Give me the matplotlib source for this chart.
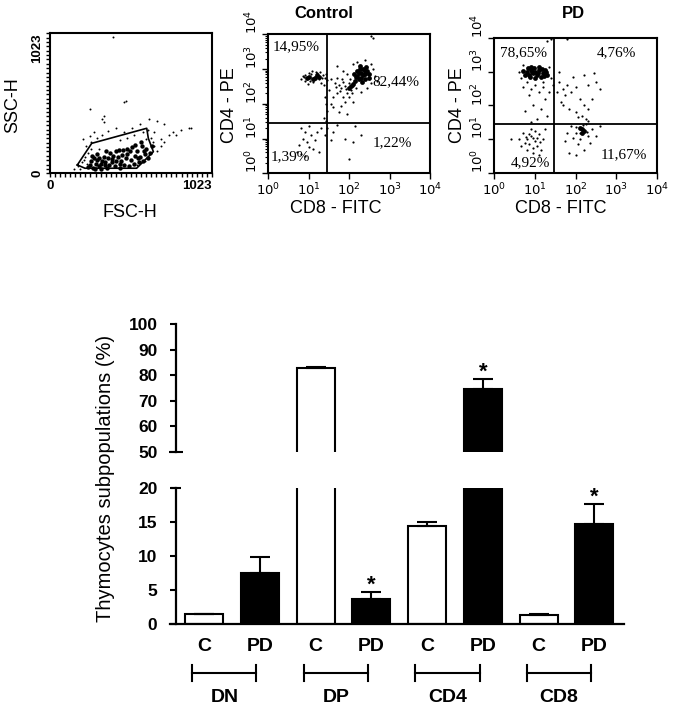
import numpy as np
import matplotlib
matplotlib.use("Agg")
import matplotlib.pyplot as plt
from matplotlib.ticker import MultipleLocator, LogLocator, NullFormatter

plt.rcParams["font.family"] = ["Liberation Sans", "DejaVu Sans"]

W, H = 682, 710


def box(x0, y0, x1, y1):
    # pixel box (top-left origin) -> figure fraction rect
    return [x0 / W, 1 - y1 / H, (x1 - x0) / W, (y1 - y0) / H]


# ---------------- data ----------------

# FSC / SSC dot plot (channel units 0-1023)
fsc_dots = [180, 200, 220, 240, 260, 230, 210, 250, 280, 300, 330, 370, 420, 470, 520,
            570, 620, 640, 660, 680, 700, 720, 750, 780, 800, 830, 880, 890, 250, 340,
            465, 480, 400, 625, 340, 330, 150, 190, 660, 640, 600, 550, 700, 260, 290,
            310, 440, 490, 530, 590, 610, 650, 215, 235, 275, 680, 720]
ssc_dots = [50, 80, 120, 150, 180, 200, 250, 270, 300, 260, 280, 310, 330, 300, 330,
            360, 320, 260, 300, 380, 250, 360, 280, 300, 280, 320, 330, 330, 470, 377,
            520, 530, 994, 397, 420, 400, 30, 30, 200, 150, 90, 60, 200, 230, 40,
            180, 240, 260, 280, 300, 250, 230, 100, 70, 130, 160, 230]
fsc_core = [250, 270, 290, 310, 330, 350, 370, 390, 410, 430, 450, 470, 490, 510, 530,
            550, 570, 590, 610, 630, 280, 300, 320, 340, 360, 380, 400, 420, 440, 460,
            480, 500, 520, 540, 560, 580, 600, 620, 260, 300, 345, 395, 445, 505, 555,
            595, 455, 375, 325, 285, 240, 265, 415, 485, 535, 575, 645, 355, 435, 310]
ssc_core = [60, 40, 70, 50, 90, 60, 110, 80, 50, 120, 90, 60, 140, 100, 70,
            160, 120, 90, 180, 150, 110, 140, 30, 120, 40, 150, 130, 90, 40, 170,
            110, 50, 190, 130, 80, 200, 140, 110, 90, 95, 85, 105, 65, 160, 110,
            160, 135, 60, 70, 35, 45, 130, 160, 180, 210, 230, 200, 160, 170, 115]
gate_x = [173, 264, 612, 622, 654, 548, 221]
gate_y = [61, 219, 329, 256, 158, 37, 37]

# CD8-FITC / CD4-PE dot plots (log10 units)
ctrl_dots = [(0.85, 2.80), (0.95, 2.72), (1.05, 2.85), (1.15, 2.78), (1.25, 2.70), (1.35, 2.82),
             (0.90, 2.65), (1.00, 2.90), (1.10, 2.62), (1.20, 2.88), (1.30, 2.60), (1.40, 2.75),
             (0.80, 2.70), (1.45, 2.68), (0.97, 2.58), (1.28, 2.92), (1.08, 2.95), (1.38, 2.55),
             (2.00, 2.60), (1.90, 2.50), (1.80, 2.45), (1.70, 2.30), (1.60, 2.20), (2.05, 2.40),
             (1.95, 2.30), (1.85, 2.20), (2.10, 2.50), (1.75, 2.55), (1.65, 2.60), (1.55, 2.70),
             (1.70, 2.75), (2.00, 2.20), (1.90, 2.05), (1.80, 1.95), (2.10, 2.05), (1.60, 1.90),
             (1.75, 1.75), (2.55, 2.60), (2.60, 3.00), (2.65, 2.80), (2.55, 3.15), (2.10, 3.15),
             (1.95, 2.85), (1.85, 2.95), (2.70, 2.65), (1.50, 2.40), (1.55, 2.00), (1.95, 1.70),
             (2.30, 2.35), (2.45, 2.45), (2.20, 3.20), (2.40, 3.25), (1.70, 3.10), (2.60, 3.90),
             (2.55, 3.95), (0.80, 1.30), (0.90, 1.20), (0.85, 1.00), (0.95, 0.90), (0.75, 0.80),
             (1.05, 1.10), (1.10, 0.70), (1.00, 1.35), (0.70, 0.60), (0.90, 0.50), (1.20, 1.20),
             (1.15, 0.95), (0.80, 0.55), (1.30, 1.30), (1.00, 0.75), (1.25, 0.60), (1.60, 1.20),
             (1.90, 1.00), (2.10, 0.90), (2.30, 1.10), (2.00, 0.40), (1.70, 1.40), (2.15, 1.35),
             (1.55, 0.95), (1.40, 2.20), (1.42, 2.00), (1.45, 1.80), (1.38, 1.60), (1.43, 1.50),
             (1.45, 1.30), (1.40, 1.10), (0.92, 2.84), (1.12, 2.68), (1.22, 2.80), (1.32, 2.74),
             (1.02, 2.66), (0.88, 2.76), (1.18, 2.92), (1.42, 2.86), (1.86, 2.62), (2.02, 2.72),
             (1.78, 2.38), (1.68, 2.48), (2.08, 2.32), (1.92, 2.42), (2.18, 2.45), (1.82, 2.70)]
ctrl_core = [(1.00, 2.78), (1.15, 2.75), (1.25, 2.78), (1.10, 2.70), (0.95, 2.74), (1.20, 2.84),
             (2.20, 2.80), (2.30, 2.90), (2.40, 2.85), (2.35, 3.00), (2.25, 2.70), (2.45, 2.95),
             (2.30, 2.75), (2.15, 2.65), (2.40, 2.70), (2.50, 2.85), (2.28, 3.08), (2.20, 2.95),
             (2.35, 2.82), (2.25, 2.88), (2.42, 3.05), (2.18, 2.76), (2.10, 2.58), (2.05, 2.50),
             (2.32, 2.62), (2.48, 2.75), (2.38, 2.93), (2.12, 2.85), (2.27, 3.00), (2.00, 2.45)]
pd_dots = [(0.70, 3.20), (0.65, 2.80), (1.35, 3.15), (1.40, 2.80), (0.80, 2.70), (1.20, 2.70),
           (1.00, 2.60), (0.90, 2.50), (1.10, 2.40), (0.85, 2.30), (1.25, 2.20), (0.95, 2.00),
           (1.15, 1.90), (0.75, 1.85), (1.30, 1.70), (1.05, 1.60), (0.90, 1.50), (1.20, 2.55),
           (0.70, 2.55), (1.45, 2.60), (1.35, 2.40), (0.60, 3.00), (0.70, 1.20), (0.80, 1.00),
           (0.90, 1.10), (1.00, 0.95), (1.10, 1.15), (0.85, 0.85), (0.95, 0.75), (1.05, 0.80),
           (0.75, 0.90), (1.20, 1.00), (0.90, 1.30), (1.15, 0.70), (0.60, 1.00), (1.00, 1.25),
           (0.80, 0.70), (1.25, 1.30), (0.65, 0.80), (1.10, 0.55), (0.40, 1.00), (0.95, 0.60),
           (1.60, 2.70), (1.70, 2.50), (1.80, 2.60), (1.90, 2.40), (2.00, 2.55), (2.10, 2.20),
           (1.75, 2.30), (1.65, 2.10), (2.20, 2.00), (1.85, 1.90), (2.00, 1.80), (2.15, 1.70),
           (2.30, 1.90), (2.40, 2.20), (1.55, 2.40), (2.50, 2.70), (2.60, 2.50), (2.30, 2.60),
           (1.95, 2.85), (2.20, 2.90), (2.45, 2.95), (1.70, 2.00), (2.05, 1.65), (2.25, 1.60),
           (1.60, 3.00), (1.90, 1.40), (2.00, 1.20), (2.10, 1.00), (2.30, 1.10), (2.25, 1.45),
           (1.95, 1.05), (2.40, 1.30), (2.05, 0.85), (2.35, 0.90), (1.80, 1.20), (2.50, 1.10),
           (2.20, 0.70), (2.00, 0.55), (2.60, 1.40), (1.75, 0.95), (2.30, 1.55), (1.85, 0.60),
           (1.40, 3.95), (1.80, 3.95), (1.30, 3.90), (0.85, 1.15), (0.95, 1.05), (1.05, 1.05),
           (0.78, 1.08), (1.12, 0.92), (2.12, 1.18), (2.18, 1.42), (2.28, 1.22), (2.02, 1.38)]
pd_core = [(0.80, 3.00), (0.90, 3.05), (1.00, 3.00), (1.10, 3.05), (1.20, 2.95), (0.85, 2.90),
           (0.95, 2.95), (1.05, 2.90), (1.15, 2.85), (1.25, 3.05), (0.90, 3.15), (1.10, 3.15),
           (1.00, 2.82), (1.30, 2.90), (0.75, 2.90), (0.82, 3.10), (0.98, 3.10), (1.18, 3.08),
           (1.28, 2.98), (0.70, 3.02), (0.88, 2.84), (1.08, 2.96), (0.92, 2.98), (1.22, 2.86),
           (2.15, 1.30), (2.20, 1.25), (2.10, 1.35), (2.17, 1.20)]

ctrl_quad = (1.46, 1.44)
pd_quad = (1.48, 1.45)
ctrl_pct = ["14,95%", "82,44%", "1,39%", "1,22%"]
pd_pct = ["78,65%", "4,76%", "4,92%", "11,67%"]

# bar chart
groups = ["DN", "DP", "CD4", "CD8"]
conds = ["C", "PD"]
means = [1.4, 7.5, 82.8, 3.7, 14.4, 74.5, 1.3, 14.7]
errs = [0.05, 2.4, 0.3, 1.0, 0.6, 4.0, 0.15, 2.9]
stars = ["", "", "", "*", "", "*", "", "*"]

fig = plt.figure(figsize=(W / 100, H / 100), dpi=100)

# ---------------- FSC / SSC ----------------
ax1 = fig.add_axes(box(50, 33.3, 211.7, 173.3))
ax1.scatter(fsc_dots, ssc_dots, s=2, c="k", lw=0)
ax1.scatter(fsc_core, ssc_core, s=10, c="k", lw=0)
ax1.plot(gate_x + gate_x[:1], gate_y + gate_y[:1], color="k", lw=1.2)
ax1.set_xlim(0, 1023)
ax1.set_ylim(0, 1023)
ax1.set_xticks([0, 1023])
ax1.set_yticks([0, 1023])
ax1.set_xticklabels(["0", "1023"], fontsize=9.5, fontweight="bold")
ax1.set_yticklabels(["0", "1023"], fontsize=9.5, fontweight="bold", rotation=90, va="center")
ax1.get_xticklabels()[1].set_ha("right")
ax1.get_yticklabels()[1].set_va("top")
ax1.xaxis.set_minor_locator(MultipleLocator(32))
ax1.yaxis.set_minor_locator(MultipleLocator(32))
ax1.tick_params(which="both", direction="out", width=1, length=3, pad=2)
for s in ax1.spines.values():
    s.set_linewidth(1.5)
fig.text(13 / W, 1 - 105 / H, "SSC-H", rotation=90, ha="center", va="center", fontsize=13)
fig.text(130 / W, 1 - 212 / H, "FSC-H", ha="center", va="center", fontsize=13)

# ---------------- CD8 / CD4 ----------------
panels = [
    (box(268.3, 34.3, 430, 173.3), ctrl_dots, ctrl_core, ctrl_quad, ctrl_pct, "Control",
     [(0.171, 0.909), (0.79, 0.657), (0.134, 0.117), (0.765, 0.218)], 324, 230, 336),
    (box(494.3, 37.7, 656.7, 173.3), pd_dots, pd_core, pd_quad, pd_pct, "PD",
     [(0.18, 0.887), (0.755, 0.887), (0.22, 0.076), (0.80, 0.135)], 573, 458, 561),
]
for rect, dots, core, quad, pct, title, pos, tx, ylx, xlx in panels:
    ax = fig.add_axes(rect)
    d = np.array(dots)
    c = np.array(core)
    ax.scatter(10 ** d[:, 0], 10 ** d[:, 1], s=2.5, c="k", lw=0)
    ax.scatter(10 ** c[:, 0], 10 ** c[:, 1], s=12, c="k", lw=0)
    ax.set_xscale("log")
    ax.set_yscale("log")
    ax.set_xlim(1, 1e4)
    ax.set_ylim(1, 1e4)
    ax.axvline(10 ** quad[0], color="k", lw=1.3)
    ax.axhline(10 ** quad[1], color="k", lw=1.3)
    ticks = [1, 10, 100, 1000, 10000]
    labs = [r"$10^{%d}$" % k for k in range(5)]
    ax.set_xticks(ticks)
    ax.set_yticks(ticks)
    ax.set_xticklabels(labs, fontsize=9.5)
    ax.set_yticklabels(labs, fontsize=9.5, rotation=90, va="bottom")
    ax.xaxis.set_minor_locator(LogLocator(base=10, subs=np.arange(2, 10)))
    ax.yaxis.set_minor_locator(LogLocator(base=10, subs=np.arange(2, 10)))
    ax.xaxis.set_minor_formatter(NullFormatter())
    ax.yaxis.set_minor_formatter(NullFormatter())
    ax.tick_params(which="major", direction="out", width=1, length=4, pad=2)
    ax.tick_params(which="minor", direction="out", width=0.8, length=2)
    for s in ax.spines.values():
        s.set_linewidth(1.5)
    for txt, (px, py) in zip(pct, pos):
        ax.text(px, py, txt, transform=ax.transAxes, ha="center", va="center",
                fontsize=11, family=["Liberation Serif", "DejaVu Serif"])
    fig.text(tx / W, 1 - 13 / H, title, ha="center", va="center", fontsize=12, fontweight="bold")
    fig.text(ylx / W, 1 - 105 / H, "CD4 - PE", rotation=90, ha="center", va="center", fontsize=13)
    fig.text(xlx / W, 1 - 208 / H, "CD8 - FITC", ha="center", va="center", fontsize=13)

# ---------------- broken bar chart ----------------
ax_top = fig.add_axes(box(170, 324, 624, 452))
ax_bot = fig.add_axes(box(170, 488, 624, 624))
x = np.arange(len(means))
colors = ["white" if i % 2 == 0 else "black" for i in x]
lower = [0] * len(errs)

for ax, lim in [(ax_top, (50, 100)), (ax_bot, (0, 20))]:
    ax.bar(x, means, width=0.68, color=colors, edgecolor="black", linewidth=1.5)
    ax.errorbar(x, means, yerr=[lower, errs], fmt="none", ecolor="black",
                elinewidth=1.5, capsize=7, capthick=1.5)
    ax.set_ylim(*lim)
    ax.set_xlim(-0.61, 7.53)
    for side in ["top", "right"]:
        ax.spines[side].set_visible(False)
    ax.spines["left"].set_position(("data", -0.5))
    ax.spines["left"].set_linewidth(1.6)
    ax.tick_params(axis="y", direction="out", length=4.5, width=1.5, pad=9, labelsize=12.5)
    for i in x:
        if stars[i] and lim[0] <= means[i] + errs[i] <= lim[1]:
            ax.annotate(stars[i], (i, means[i] + errs[i]), xytext=(0, 1),
                        textcoords="offset points", ha="center", va="baseline",
                        fontsize=16, fontweight="bold")

ax_top.set_yticks(range(50, 101, 10))
ax_top.spines["bottom"].set_visible(False)
ax_top.set_xticks([])
ax_bot.set_yticks(range(0, 21, 5))
ax_bot.spines["bottom"].set_linewidth(1.6)
for lab in ax_top.get_yticklabels() + ax_bot.get_yticklabels():
    lab.set_fontweight("bold")

# wider ticks marking the axis break
ax_top.plot([-0.5], [50], marker="_", markersize=9.5, mew=1.5, color="k", clip_on=False)
ax_bot.plot([-0.5], [20], marker="_", markersize=7.5, mew=1.5, color="k", clip_on=False)

ax_bot.set_xticks(x)
ax_bot.set_xticklabels([conds[i % 2] for i in x], fontsize=14, fontweight="bold")
ax_bot.tick_params(axis="x", length=0, pad=10)

# group brackets
trans = ax_bot.get_xaxis_transform()
by = -49 / 136
cap = 8 / 136
for g, name in enumerate(groups):
    x0, x1 = 2 * g - 0.21, 2 * g + 0.94
    ax_bot.plot([x0, x1], [by, by], color="k", lw=1.5, transform=trans, clip_on=False)
    for xe in (x0, x1):
        ax_bot.plot([xe, xe], [by - cap, by + cap], color="k", lw=1.5, transform=trans, clip_on=False)
    ax_bot.text((x0 + x1) / 2, -74 / 136, name, transform=trans, ha="center", va="center",
                fontsize=14, fontweight="bold")

fig.text(106 / W, 1 - 478 / H, "Thymocytes subpopulations (%)", rotation=90,
         ha="center", va="center", fontsize=14.5)

fig.savefig("out.png", dpi=100)
